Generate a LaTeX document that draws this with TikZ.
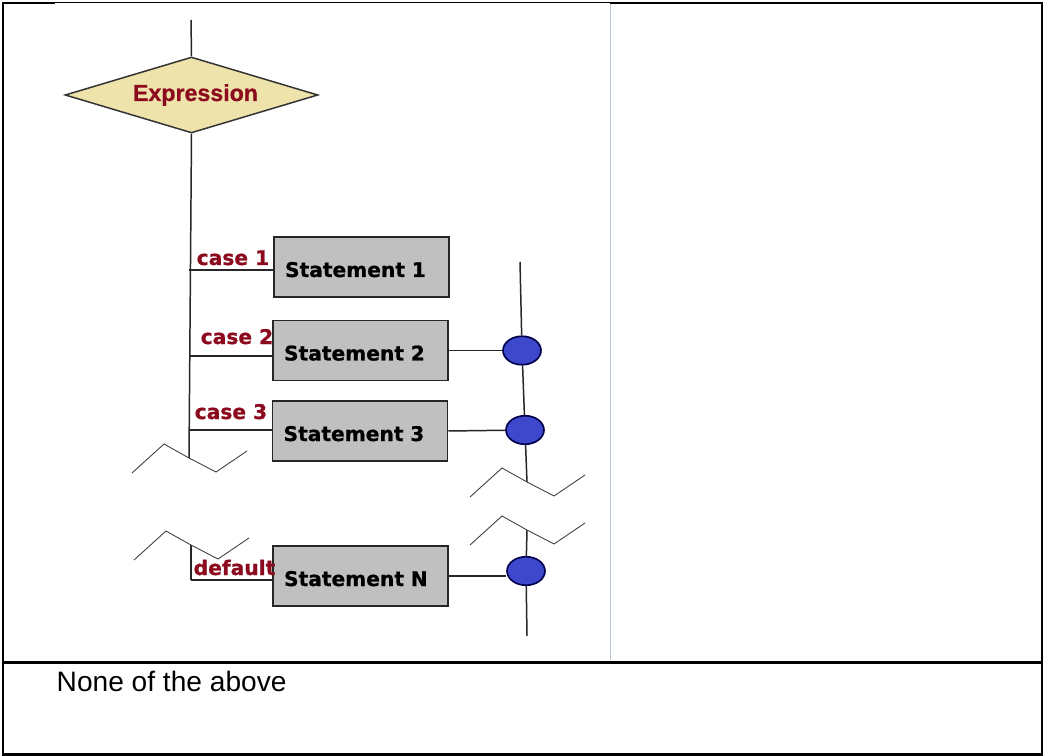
\documentclass[tikz,border=0pt]{standalone}
\usepackage{fontspec}
\setmainfont{Liberation Sans}[BoldFeatures={FakeBold=0.8}]
\newfontfamily\boxfont{DejaVu Sans}[BoldFeatures={FakeBold=0.8}]
\usetikzlibrary{shapes.geometric, positioning}

\definecolor{exprfill}{RGB}{239,227,172}
\definecolor{labelred}{RGB}{140,10,30}
\definecolor{stmtgrey}{RGB}{192,192,192}
\definecolor{joinblue}{RGB}{62,72,204}
\definecolor{rulegrey}{RGB}{185,198,216}

% box text sits a little below the middle
\newcommand{\lowtext}[1]{\raisebox{-0.1cm}[0.3cm][0.1cm]{#1}}

\begin{document}
\begin{tikzpicture}[x=0.02cm, y=-0.02cm, line width=0.85pt,
    flow/.style={draw=black!85},
    dia/.style={diamond, draw=black!80, fill=exprfill, aspect=3.2, inner sep=0pt,
        minimum width=5.06cm, minimum height=1.52cm,
        text=labelred, font=\fontsize{13.2}{15}\bfseries},
    stmt/.style={rectangle, draw=black!85, line width=0.95pt, fill=stmtgrey,
        minimum height=1.2cm, text width=3.06cm, inner xsep=0.22cm, align=left,
        font=\boxfont\fontsize{11.5}{13}\bfseries},
    caselbl/.style={anchor=base west, inner sep=0pt, text=labelred,
        font=\boxfont\fontsize{11.5}{13}\bfseries},
    mergept/.style={ellipse, draw=black!70!blue, line width=0.95pt, fill=joinblue,
        minimum width=0.76cm, minimum height=0.57cm, inner sep=0pt},
    brk/.style={draw=black!75, line width=0.5pt},
    cell/.style={draw=black, line width=1.15pt}]
\useasboundingbox (0,0) rectangle (1043,756);

% table frame
\draw[cell] (55,3) -- (3,3) -- (3,754.5) -- (1041.5,754.5) -- (1041.5,3) -- (610,3);
\draw[black, line width=0.5pt] (55,2.5) -- (610,2.5);
\draw[cell] (3,662.5) -- (1041.5,662.5);
\draw[rulegrey, line width=0.8pt] (610.5,4) -- (610.5,660);

% switch block
\coordinate (in) at (191,20);
\node[dia] (expr) at (191.5,95) {\hspace*{0.16cm}Expression};

\node[stmt] (s1) at (361.5,267) {\lowtext{Statement 1}};
\node[stmt] (s2) at (360.5,350.5) {\lowtext{Statement 2}};
\node[stmt] (s3) at (360,431) {\lowtext{Statement 3}};
\node[stmt] (sN) at (360.5,576) {\lowtext{Statement N}};

\coordinate (c1) at (189,270);
\coordinate (c2) at (189,356);
\coordinate (c3) at (189,430);
\coordinate (zl1) at (189,458);
\coordinate (zl2) at (191,545);
\coordinate (cN) at (191,580);

\node[caselbl] (l1) at ([shift={(7,-5)}]c1) {case 1};
\node[caselbl] (l2) at ([shift={(11,-12)}]c2) {case 2};
\node[caselbl] (l3) at ([shift={(5,-11)}]c3) {case 3};
\node[caselbl] (lN) at ([shift={(2,-5)}]cN) {default};

% merge points
\coordinate (out) at (520,262);
\node[mergept] (e2) at (522,350.5) {};
\node[mergept] (e3) at (525,430) {};
\coordinate (zr1) at (527,482);
\coordinate (zr2) at (527,530);
\node[mergept] (eN) at (526,571) {};
\coordinate (end) at (527,636);

\path[flow]
    (in) edge (expr.north)
    (expr.south) edge (zl1)
    (c1) edge (c1 -| s1.west)
    (c2) edge (c2 -| s2.west)
    (c3) edge (c3 -| s3.west)
    (zl2) edge (cN)
    (cN) edge (sN.west |- cN)
    (out) edge (e2)
    (e2) edge (e3)
    (e3) edge (zr1)
    (zr2) edge (eN)
    (eN) edge (end)
    (s2.east) edge (e2)
    (s3.east) edge (e3)
    (sN.east) edge (sN.east -| eN.west)
    ;

% broken-line marks
\foreach \j in {zl1,zl2,zr1,zr2}
    \draw[brk] ([shift={(-57,15)}]\j) -- ([shift={(-25,-14)}]\j) -- (\j)
        -- ([shift={(27,14)}]\j) -- ([shift={(58,-7)}]\j);

\node[anchor=base west, inner sep=0pt, font=\fontsize{16}{18}\selectfont] (ans) at (56,691) {None of the above};
\end{tikzpicture}
\end{document}
